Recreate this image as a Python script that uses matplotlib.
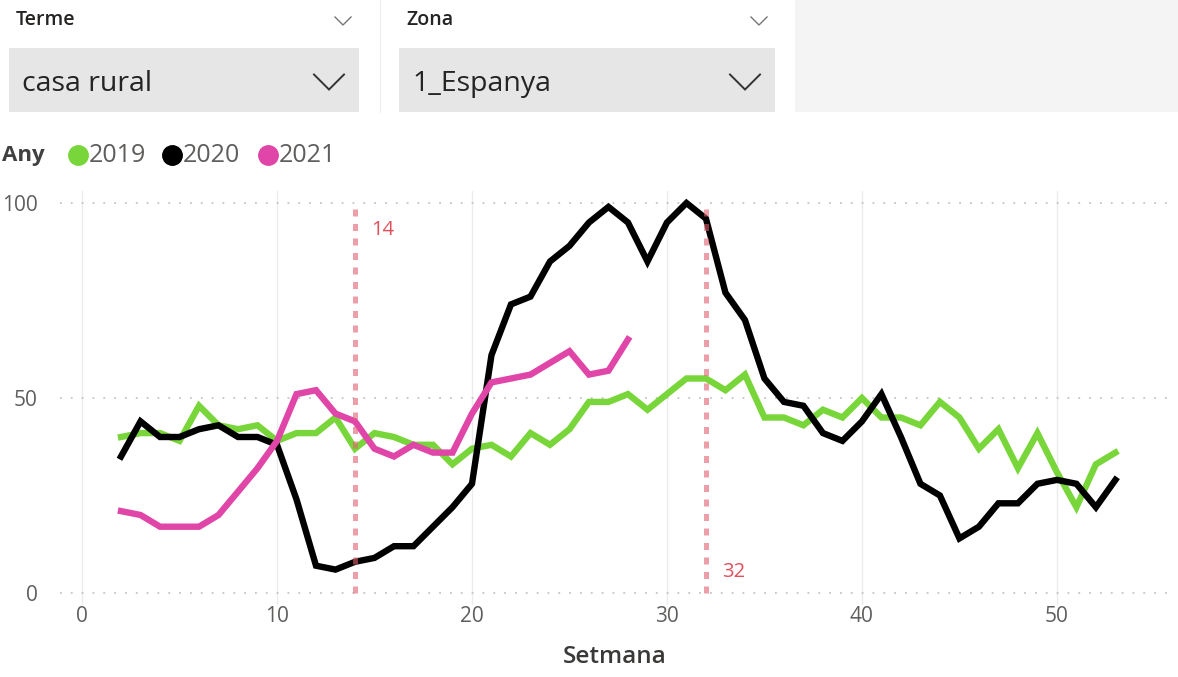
import matplotlib.pyplot as plt
from matplotlib.patches import Rectangle

# data
weeks = list(range(2, 54))
y2019 = [40, 41, 41, 39, 48, 43, 42, 43, 39, 41,
         41, 45, 37, 41, 40, 38, 38, 33, 37, 38,
         35, 41, 38, 42, 49, 49, 51, 47, 51, 55,
         55, 52, 56, 45, 45, 43, 47, 45, 50, 45,
         45, 43, 49, 45, 37, 42, 32, 41, 31, 22,
         33, 36]
y2020 = [35, 44, 40, 40, 42, 43, 40, 40, 38, 24,
         7, 6, 8, 9, 12, 12, 17, 22, 28, 61,
         74, 76, 85, 89, 95, 99, 95, 85, 95, 100,
         96, 77, 70, 55, 49, 48, 41, 39, 44, 51,
         40, 28, 25, 14, 17, 23, 23, 28, 29, 28,
         22, 29]
weeks_2021 = list(range(2, 29))
y2021 = [21, 20, 17, 17, 17, 20, 26, 32, 39, 51,
         52, 46, 44, 37, 35, 38, 36, 36, 46, 54,
         55, 56, 59, 62, 56, 57, 65]
ref_weeks = [14, 32]
ref_label_y = [93, 5.5]
years = ["2019", "2020", "2021"]
colors = ["#78D63A", "#000000", "#E045A8"]
x_ticks = [0, 10, 20, 30, 40, 50]
y_ticks = [0, 50, 100]

plt.rcParams['font.family'] = ['Open Sans', 'DejaVu Sans']
W, H = 1178, 677
fig = plt.figure(figsize=(W / 100, H / 100), dpi=100)

# main chart axes (pixel positions converted to figure fractions)
ax = fig.add_axes([60 / W, 1 - 604.7 / H, 1110 / W, 413.4 / H])
ax.set_xlim(-1.13, 55.8)
ax.set_ylim(-3, 103)
for s in ax.spines.values():
    s.set_visible(False)

for xv in x_ticks:
    ax.axvline(xv, color="#ececec", lw=1, zorder=0)
for yv in y_ticks:
    ax.axhline(yv, color="#c4c4c4", lw=1.3, ls=(0, (1, 5)), zorder=0)

ax.plot(weeks, y2019, color=colors[0], lw=4.6, solid_joinstyle="miter", zorder=2)
ax.plot(weeks, y2020, color=colors[1], lw=4.6, solid_joinstyle="miter", zorder=3)
ax.plot(weeks_2021, y2021, color=colors[2], lw=4.6, solid_joinstyle="miter", zorder=4)

for xv, ly in zip(ref_weeks, ref_label_y):
    ax.plot([xv, xv], [0, 100], color="#E0606E", alpha=0.6, lw=3.6,
            ls=(0, (1.4, 1.5)), zorder=5)
    ax.text(xv + 0.85, ly, str(xv), color="#E0505C", fontsize=14.5,
            va="center", ha="left", zorder=6)

ax.set_xticks(x_ticks)
ax.set_yticks(y_ticks)
ax.tick_params(length=0, labelsize=15, labelcolor="#605E5C")
ax.tick_params(axis="y", pad=16)
ax.tick_params(axis="x", pad=1)
ax.set_xlabel("Setmana", fontsize=17.5, fontweight="semibold",
              color="#3a3938", labelpad=13)

# overlay in pixel coordinates for the slicers and legend
ov = fig.add_axes([0, 0, 1, 1], zorder=-1)
ov.set_xlim(0, W)
ov.set_ylim(H, 0)
ov.axis("off")

ov.add_patch(Rectangle((795, 0), 383, 112, color="#f4f4f4", lw=0))
ov.plot([380, 380], [0, 112], color="#f0f0f0", lw=1)

def chevron(cx, cy, w, h, lw, col):
    ov.plot([cx - w / 2, cx, cx + w / 2], [cy - h / 2, cy + h / 2, cy - h / 2],
            color=col, lw=lw, solid_joinstyle="miter")

for x0, x1, title, value in [(9, 359, "Terme", "casa rural"),
                             (399, 775, "Zona", "1_Espanya")]:
    ov.add_patch(Rectangle((x0, 48), x1 - x0, 64, color="#e6e6e6", lw=0))
    ov.text(x0 + 7, 20, title, fontsize=14, fontweight="semibold",
            color="#252423", va="center", ha="left")
    ov.text(x0 + 13, 84, value, fontsize=20.5, color="#252423",
            va="center", ha="left")
    chevron(x1 - 16, 21, 16, 8, 1, "#777777")
    chevron(x1 - 30, 82, 30, 15, 1.4, "#333333")

# legend
ov.text(2, 155, "Any", fontsize=16, fontweight="bold", color="#404040",
        va="center", ha="left")
lx = [78, 172, 268]
for x, c, lab in zip(lx, colors, years):
    ov.plot([x], [155], marker="o", ms=14, color=c, mec=c)
    ov.text(x + 11, 155, lab, fontsize=18, color="#605E5C",
            va="center", ha="left")

fig.savefig("out.png", dpi=100)
